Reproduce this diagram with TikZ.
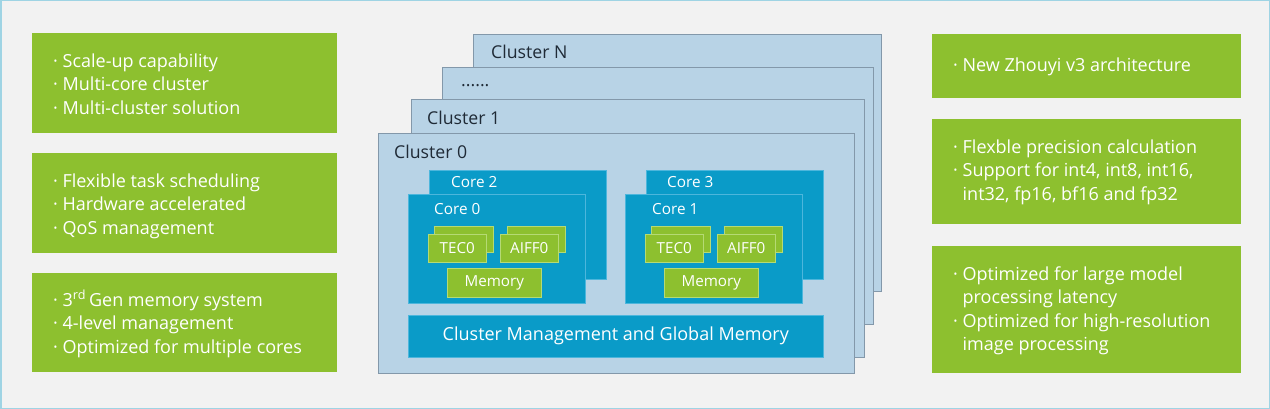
\documentclass[tikz,border=0pt]{standalone}
\usepackage{fontspec}
\setmainfont{Open Sans}
\definecolor{bgc}{HTML}{F2F2F2}
\definecolor{bgline}{HTML}{9FD4E4}
\definecolor{gfill}{HTML}{8DC02F}
\definecolor{gline}{HTML}{B5DA74}
\definecolor{clfill}{HTML}{B8D3E6}
\definecolor{clline}{HTML}{8398AA}
\definecolor{cofill}{HTML}{0A9BC8}
\definecolor{coline}{HTML}{4DB6DC}
\definecolor{dark}{HTML}{1F2A36}
\tikzset{
  gbox/.style={fill=gfill, draw=none, anchor=north west, inner sep=0pt},
  gtext/.style={text=white, anchor=west, align=left, inner sep=0pt,
    font=\fontsize{18}{23.5}\selectfont},
  clbox/.style={fill=clfill, draw=clline, line width=0.8pt, anchor=north west, inner sep=0pt,
    minimum width=#1},
  cllabel/.style={text=dark, anchor=west, inner sep=0pt, font=\fontsize{17.7}{20}\selectfont},
  cobox/.style={fill=cofill, draw=coline, line width=0.6pt, anchor=north west, inner sep=0pt,
    minimum width=177pt, minimum height=109pt},
  colabel/.style={text=white, anchor=west, inner sep=0pt, font=\fontsize{15.3}{18}\selectfont},
  sbox/.style={fill=gfill, draw=gline, line width=0.6pt, anchor=north west, inner sep=0pt,
    text=white, font=\fontsize{15.2}{17}\selectfont}
}
\newcommand{\bl}{\textperiodcentered\ }
\newcommand{\ind}{\hphantom{\textperiodcentered\ }}
\begin{document}
\begin{tikzpicture}[x=1pt,y=-1pt]
\useasboundingbox (0,0) rectangle (1270,409);
\fill[bgc] (0,0) rectangle (1270,409);
\draw[bgline, line width=1.5pt] (0.75,0.75) rectangle (1269.25,408.25);

% left boxes
\node[gbox, minimum width=305pt, minimum height=100pt] (l1) at (32,33) {};
\node[gbox, minimum width=305pt, minimum height=100pt] (l2) at (32,153) {};
\node[gbox, minimum width=305pt, minimum height=99pt] (l3) at (32,273) {};
\node[gtext] (l1t) at (53,84) {\bl Scale-up capability\\\bl Multi-core cluster\\\bl Multi-cluster solution};
\node[gtext] (l2t) at (53,206) {\bl Flexible task scheduling\\\bl Hardware accelerated\\\bl QoS management};
\node[gtext] (l3t) at (53,324) {\bl 3\textsuperscript{rd}\,Gen memory system\\\bl 4-level management\\\bl Optimized for multiple cores};

% right boxes
\node[gbox, minimum width=309pt, minimum height=64pt] (r1) at (932,34) {};
\node[gbox, minimum width=309pt, minimum height=105pt] (r2) at (932,119) {};
\node[gbox, minimum width=309pt, minimum height=127pt] (r3) at (932,246) {};
\node[gtext] (r1t) at (953,67) {\bl New Zhouyi v3 architecture};
\node[gtext] (r2t) at (953,172) {\bl Flexble precision calculation\\\bl Support for int4, int8, int16,\\\ind int32, fp16, bf16 and fp32};
\node[gtext] (r3t) at (953,311) {\bl Optimized for large model\\\ind processing latency\\\bl Optimized for high-resolution\\\ind image processing};

% clusters
\node[clbox=408pt, minimum height=257pt] (cN) at (473,34) {};
\node[clbox=431pt, minimum height=257pt] (cD) at (442,67) {};
\node[clbox=453pt, minimum height=258pt] (c1) at (411,99) {};
\node[clbox=476pt, minimum height=240pt] (c0) at (378,133) {};
\node[cllabel] (cNl) at (491,52) {Cluster N};
\node[cllabel] (cDl) at (461,86) {......};
\node[cllabel] (c1l) at (427,118) {Cluster 1};
\node[cllabel] (c0l) at (394,152) {Cluster 0};

% cores
\node[cobox] (k2) at (429,170) {};
\node[cobox] (k0) at (408,194) {};
\node[cobox] (k3) at (646,170) {};
\node[cobox] (k1) at (625,194) {};
\node[colabel] (k2l) at (451,182) {Core 2};
\node[colabel] (k0l) at (434,209) {Core 0};
\node[colabel] (k3l) at (667,182) {Core 3};
\node[colabel] (k1l) at (652,209) {Core 1};

% core 0 internals
\node[sbox, minimum width=59pt, minimum height=26pt] (t0b) at (434,226) {};
\node[sbox, minimum width=58pt, minimum height=28pt] (t0) at (428,234) {TEC0};
\node[sbox, minimum width=58pt, minimum height=26pt] (a0b) at (507,226) {};
\node[sbox, minimum width=58pt, minimum height=28pt] (a0) at (500,234) {AIFF0};
\node[sbox, minimum width=94pt, minimum height=29pt] (m0) at (447,268) {Memory};
% core 1 internals
\node[sbox, minimum width=59pt, minimum height=26pt] (t1b) at (651,226) {};
\node[sbox, minimum width=58pt, minimum height=28pt] (t1) at (645,234) {TEC0};
\node[sbox, minimum width=58pt, minimum height=26pt] (a1b) at (724,226) {};
\node[sbox, minimum width=58pt, minimum height=28pt] (a1) at (717,234) {AIFF0};
\node[sbox, minimum width=94pt, minimum height=29pt] (m1) at (664,268) {Memory};

% cluster management
\node[fill=cofill, draw=coline, line width=0.6pt, anchor=north west, inner sep=0pt,
  minimum width=415pt, minimum height=42pt, text=white, font=\fontsize{18}{20}\selectfont]
  (cm) at (408,315) {Cluster Management and Global Memory};
\end{tikzpicture}
\end{document}
